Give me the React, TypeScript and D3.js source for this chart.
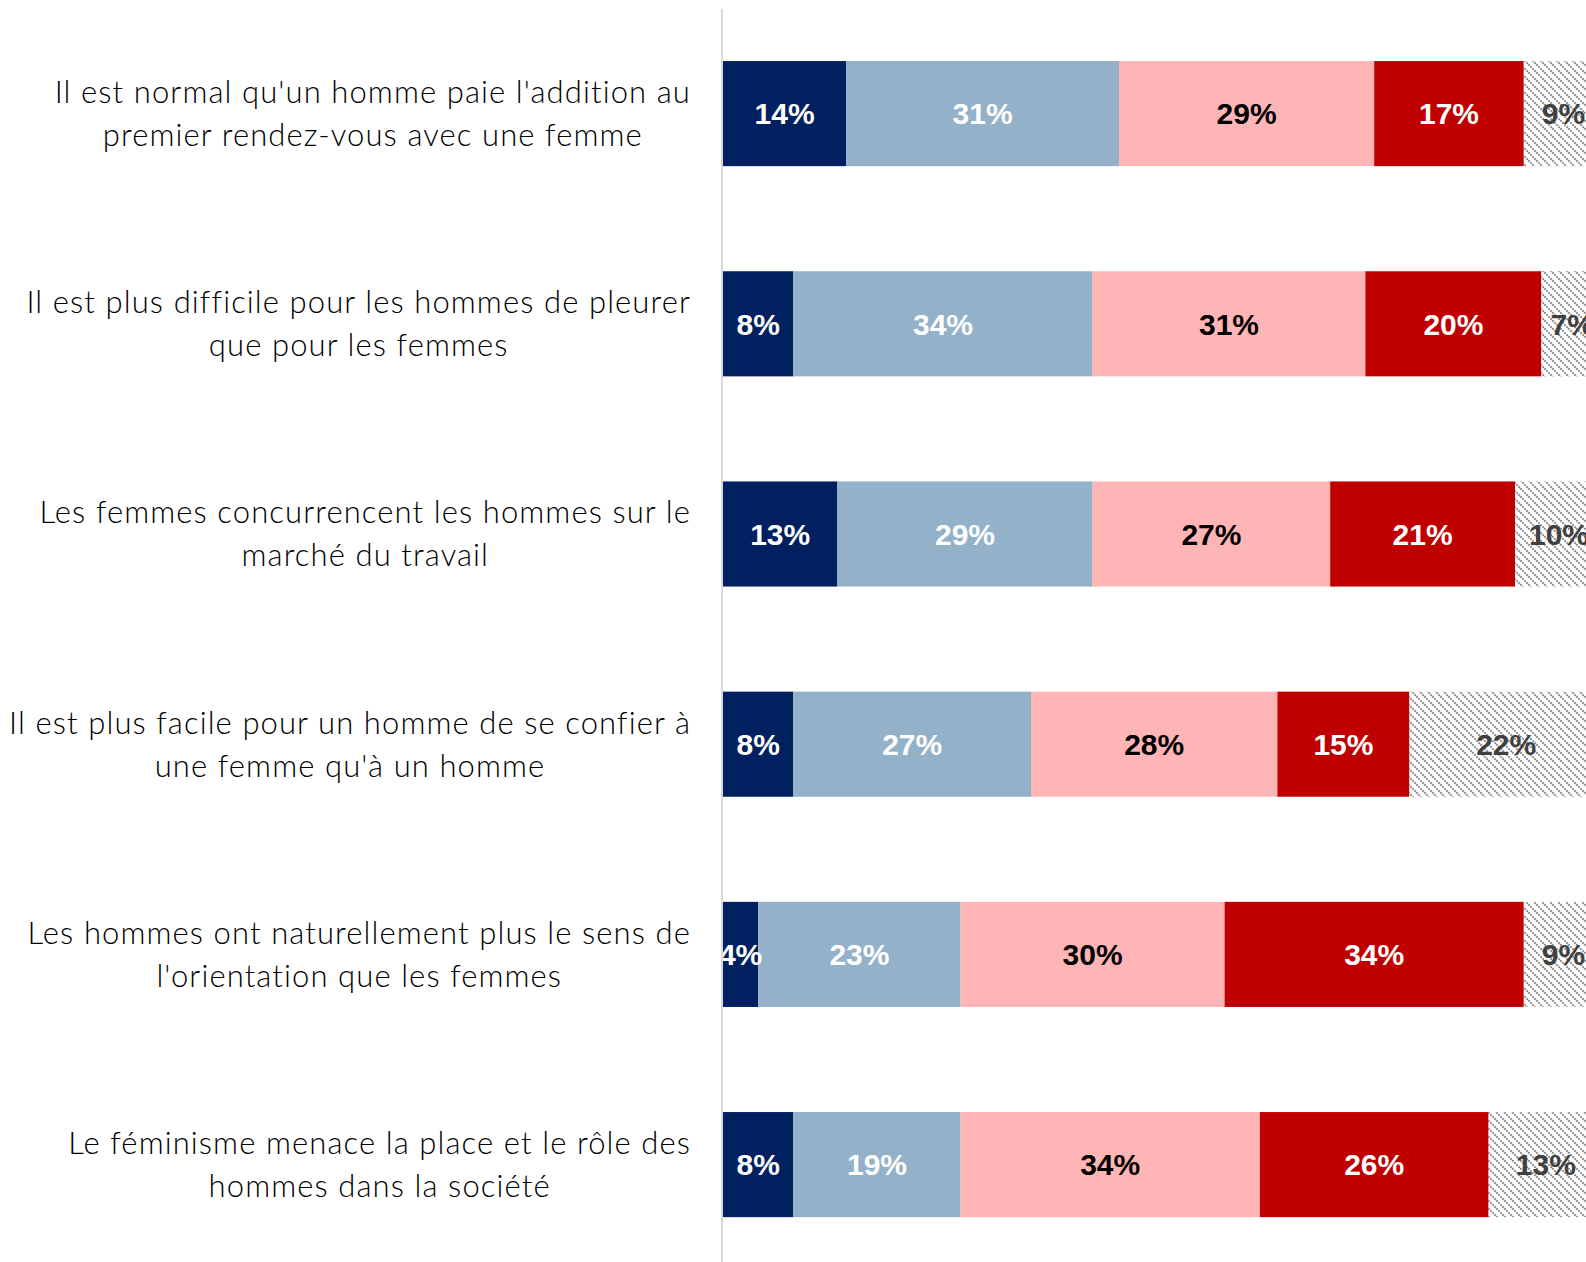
import React, { useEffect, useRef } from "react";
import * as d3 from "d3";

const categories = [
  ["Il est normal qu'un homme paie l'addition au", "premier rendez-vous avec une femme"],
  ["Il est plus difficile pour les hommes de pleurer", "que pour les femmes"],
  ["Les femmes concurrencent les hommes sur le", "marché du travail"],
  ["Il est plus facile pour un homme de se confier à", "une femme qu'à un homme"],
  ["Les hommes ont naturellement plus le sens de", "l'orientation que les femmes"],
  ["Le féminisme menace la place et le rôle des", "hommes dans la société"],
];

const seriesNames = ["Tout à fait d'accord", "Plutôt d'accord", "Plutôt pas d'accord", "Pas du tout d'accord", "NSP"];
const toutAFait = [14, 8, 13, 8, 4, 8];
const plutot = [31, 34, 29, 27, 23, 19];
const plutotPas = [29, 31, 27, 28, 30, 34];
const pasDuTout = [17, 20, 21, 15, 34, 26];
const nsp = [9, 7, 10, 22, 9, 13];

const seriesValues = [toutAFait, plutot, plutotPas, pasDuTout, nsp];
const fills = ["#002060", "#93B1C9", "#FFB5B5", "#C00000", "url(#hatch)"];
const labelColors = ["#FFFFFF", "#FFFFFF", "#000000", "#FFFFFF", "#404040"];

const W = 1586;
const H = 1262;

export default function App() {
  const ref = useRef<SVGSVGElement>(null);

  useEffect(() => {
    const svg = d3.select(ref.current);
    svg.selectAll("*").remove();

    const defs = svg.append("defs");
    const pat = defs
      .append("pattern")
      .attr("id", "hatch")
      .attr("patternUnits", "userSpaceOnUse")
      .attr("width", 8)
      .attr("height", 8);
    pat.append("rect").attr("width", 8).attr("height", 8).attr("fill", "#FFFFFF");
    pat
      .append("path")
      .attr("d", "M-2,-2 L10,10 M-2,6 L2,10 M6,-2 L10,2")
      .attr("stroke", "#8C8C8C")
      .attr("stroke-width", 2)
      .attr("stroke-dasharray", "2,1");

    const idx = categories.map((_, i) => i);
    const y = d3.scaleBand<number>().domain(idx).range([8.5, 1269.7]).paddingInner(0.5).paddingOuter(0.25);
    const x = d3.scaleLinear().domain([0, 100]).range([723, 1603]);

    const rows = idx.map((i) => {
      let acc = 0;
      return seriesValues.map((s, k) => {
        const v = s[i];
        const seg = { k, v, x0: acc, x1: acc + v, i };
        acc += v;
        return seg;
      });
    });

    const g = svg.append("g");
    rows.forEach((segs, i) => {
      const row = g.append("g");
      row
        .selectAll("rect")
        .data(segs)
        .join("rect")
        .attr("x", (d) => x(d.x0))
        .attr("y", y(i)!)
        .attr("width", (d) => x(d.x1) - x(d.x0))
        .attr("height", y.bandwidth())
        .attr("fill", (d) => fills[d.k]);
      row
        .selectAll("text")
        .data(segs)
        .join("text")
        .attr("x", (d) => (x(d.x0) + x(d.x1)) / 2)
        .attr("y", y(i)! + y.bandwidth() / 2)
        .attr("dy", "0.36em")
        .attr("text-anchor", "middle")
        .attr("font-family", "'Liberation Sans', Arial, sans-serif")
        .attr("font-weight", "bold")
        .attr("font-size", 30)
        .attr("fill", (d) => labelColors[d.k])
        .text((d) => `${d.v}%`);
    });

    // axis line
    svg
      .append("line")
      .attr("x1", 722)
      .attr("x2", 722)
      .attr("y1", 9)
      .attr("y2", H)
      .attr("stroke", "#D9D9D9")
      .attr("stroke-width", 2);

    // category labels
    const right = 691;
    categories.forEach((lines, i) => {
      const cy = y(i)! + y.bandwidth() / 2;
      const tg = svg.append("g");
      const texts = lines.map((l, j) =>
        tg
          .append("text")
          .attr("y", cy + (j - (lines.length - 1) / 2) * 43)
          .attr("dy", "0.35em")
          .attr("text-anchor", "middle")
          .attr("font-family", "Lato, 'Noto Sans', sans-serif")
          .attr("font-weight", 300)
          .attr("font-size", 31)
          .attr("letter-spacing", 1.1)
          .attr("fill", "#000000")
          .text(l)
      );
      const widths = texts.map((t) => (t.node() as SVGTextElement).getComputedTextLength());
      const maxW = d3.max(widths) || 0;
      texts.forEach((t) => t.attr("x", right - maxW / 2));
    });
  }, []);

  return (
    <div style={{ position: "absolute", left: 0, top: 0 }}>
      <svg ref={ref} width={W} height={H} style={{ display: "block", background: "#FFFFFF" }} />
    </div>
  );
}
